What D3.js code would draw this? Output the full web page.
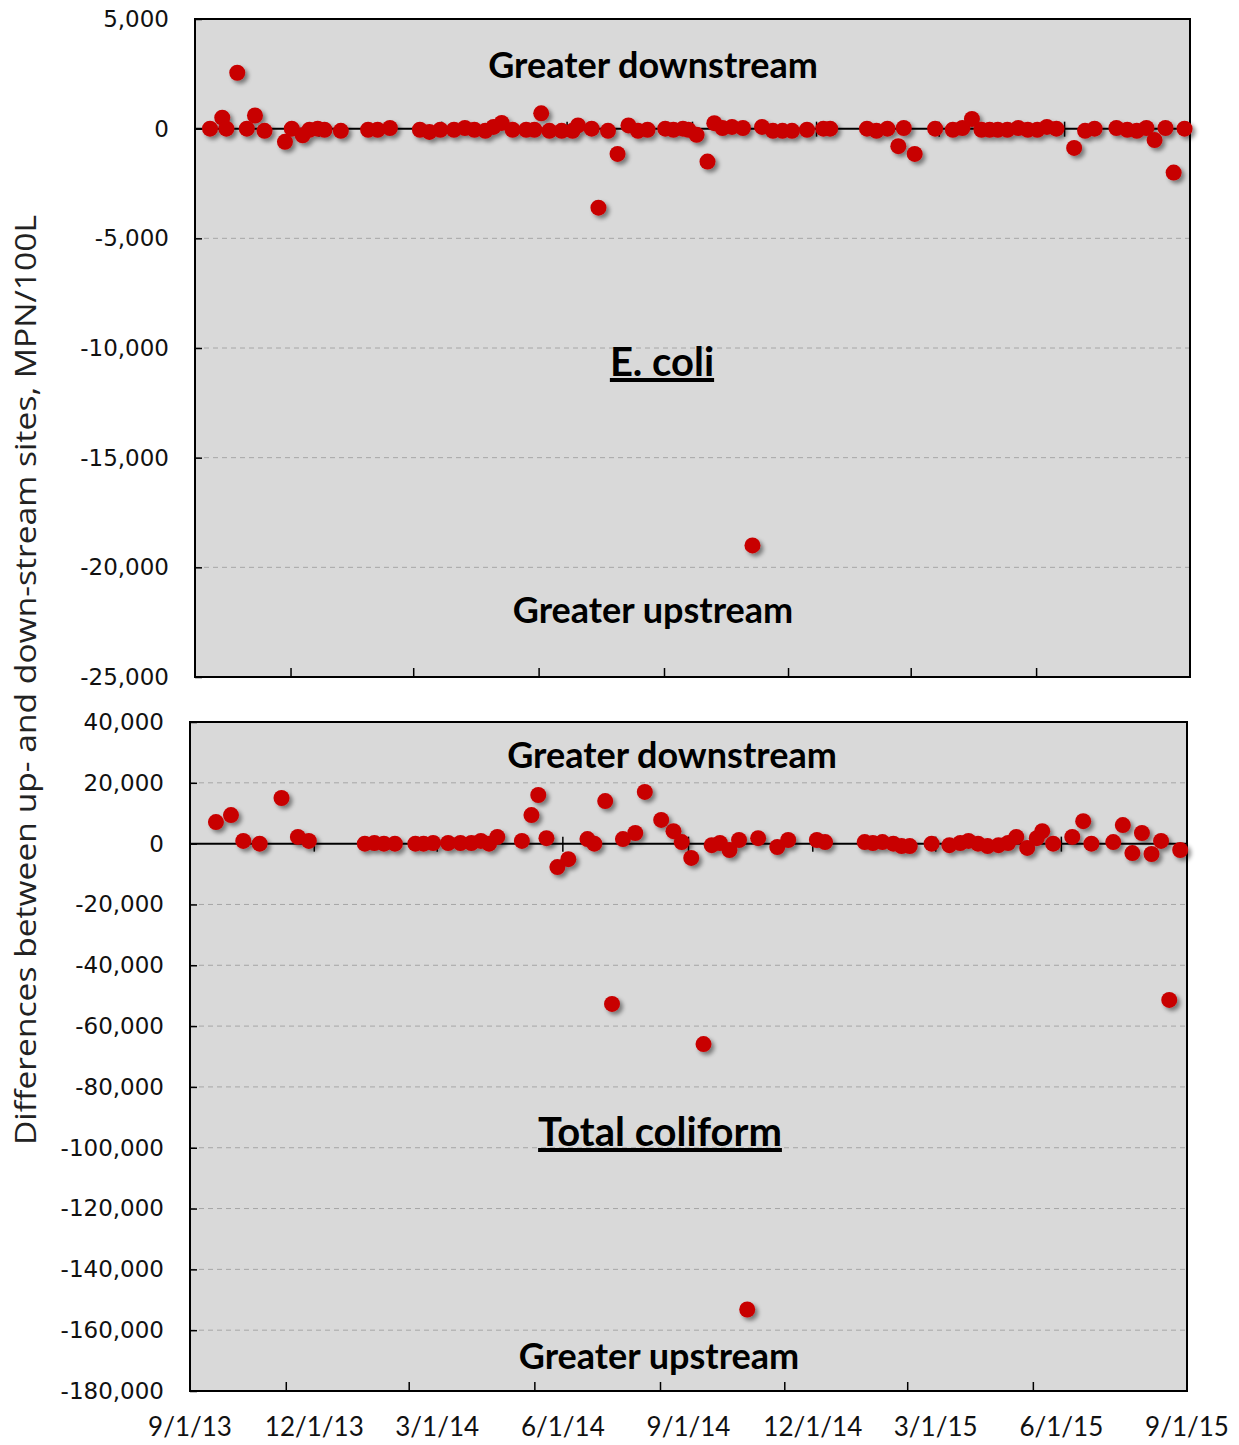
<!DOCTYPE html>
<html>
<head>
<meta charset="utf-8">
<script src="https://cdn.jsdelivr.net/npm/d3@7"></script>
<style>
  body { margin: 0; background: #fff; }
  svg { display: block; }
</style>
</head>
<body>
<script>
const width = 1239, height = 1445;

// E. coli differences (sampling date, MPN/100L)
const ecoliDates = [
  "2013-09-12","2013-09-21","2013-09-24","2013-10-02","2013-10-09","2013-10-15","2013-10-22",
  "2013-11-06","2013-11-11","2013-11-19","2013-11-24","2013-11-30","2013-12-05","2013-12-17",
  "2014-01-06","2014-01-13","2014-01-22","2014-02-13","2014-02-20","2014-02-28","2014-03-10",
  "2014-03-18","2014-03-25","2014-04-02","2014-04-08","2014-04-14","2014-04-22","2014-05-02",
  "2014-05-08","2014-05-13","2014-05-19","2014-05-28","2014-06-05","2014-06-09","2014-06-19",
  "2014-06-24","2014-07-01","2014-07-08","2014-07-16","2014-07-23","2014-07-30","2014-08-12",
  "2014-08-18","2014-08-25","2014-08-29","2014-09-04","2014-09-12","2014-09-17","2014-09-23",
  "2014-09-30","2014-10-08","2014-10-15","2014-10-22","2014-10-30","2014-11-06","2014-11-13",
  "2014-11-24","2014-12-06","2014-12-11","2015-01-07","2015-01-14","2015-01-22","2015-01-30",
  "2015-02-03","2015-02-11","2015-02-26","2015-03-11","2015-03-18","2015-03-25","2015-04-01",
  "2015-04-07","2015-04-13","2015-04-20","2015-04-28","2015-05-05","2015-05-12","2015-05-19",
  "2015-05-26","2015-06-08","2015-06-16","2015-06-23","2015-07-09","2015-07-17","2015-07-24",
  "2015-07-31","2015-08-06","2015-08-14","2015-08-20","2015-08-28"
];
const ecoliValues = [
  0, 500, 0, 2550, 0, 600, -100,
  -600, 0, -300, -50, 0, -50, -100,
  -50, -50, 30, -50, -150, -50, -50,
  30, -50, -100, 80, 260, -50, -50,
  -50, 700, -100, -100, -100, 150, 0,
  -3600, -100, -1150, 150, -100, -50, 0,
  -50, 0, -50, -280, -1500, 250, 30,
  80, 30, -19000, 80, -100, -100, -100,
  -50, 0, 0, 0, -100, 0, -800,
  30, -1150, 0, -50, 30, 440, -50,
  -50, -50, -50, 30, -50, -50, 80,
  0, -880, -100, 0, 30, -50, -100,
  30, -520, 30, -2000, 0
];

// Total coliform differences (sampling date, MPN/100L)
const coliformDates = [
  "2013-09-20","2013-10-01","2013-10-10","2013-10-22","2013-11-07","2013-11-19","2013-11-27",
  "2014-01-07","2014-01-14","2014-01-21","2014-01-29","2014-02-13","2014-02-19","2014-02-26",
  "2014-03-09","2014-03-18","2014-03-26","2014-04-02","2014-04-08","2014-04-14","2014-05-02",
  "2014-05-09","2014-05-14","2014-05-20","2014-05-28","2014-06-05","2014-06-19","2014-06-24",
  "2014-07-02","2014-07-07","2014-07-15","2014-07-24","2014-07-31","2014-08-12","2014-08-21",
  "2014-08-27","2014-09-03","2014-09-12","2014-09-18","2014-09-24","2014-10-01","2014-10-08",
  "2014-10-14","2014-10-22","2014-11-05","2014-11-13","2014-12-04","2014-12-10","2015-01-08",
  "2015-01-14","2015-01-21","2015-01-29","2015-02-04","2015-02-10","2015-02-26","2015-03-11",
  "2015-03-19","2015-03-25","2015-04-01","2015-04-08","2015-04-16","2015-04-23","2015-04-29",
  "2015-05-07","2015-05-14","2015-05-18","2015-05-26","2015-06-09","2015-06-17","2015-06-23",
  "2015-07-09","2015-07-16","2015-07-23","2015-07-30","2015-08-06","2015-08-13","2015-08-19",
  "2015-08-27"
];
const coliformValues = [
  7100, 9400, 900, 0, 15000, 2200, 900,
  0, 200, 0, 0, 0, 0, 200,
  200, 200, 200, 900, 0, 2200, 900,
  9400, 16000, 1800, -7700, -5100, 1500, 0,
  14000, -52700, 1500, 3500, 17000, 7800, 4100,
  500, -4700, -65900, -500, 200, -2100, 1200,
  -153200, 1800, -1100, 1200, 1200, 500, 500,
  200, 500, 0, -800, -800, 0, -500,
  200, 900, 0, -800, -500, 200, 2200,
  -1400, 1800, 4100, 0, 2200, 7400, 0,
  500, 6100, -3100, 3500, -3400, 900, -51400,
  -2100
];

const ecoliTicks = [5000, 0, -5000, -10000, -15000, -20000, -25000];
const coliformTicks = [40000, 20000, 0, -20000, -40000, -60000, -80000, -100000,
  -120000, -140000, -160000, -180000];
const xTickLabels = ["9/1/13", "12/1/13", "3/1/14", "6/1/14", "9/1/14", "12/1/14", "3/1/15", "6/1/15", "9/1/15"];

const parseDate = d3.timeParse("%Y-%m-%d");
const parseLabel = d3.timeParse("%-m/%-d/%y");
const xDomain = [parseLabel(xTickLabels[0]), parseLabel(xTickLabels[xTickLabels.length - 1])];
// plain hyphen for negatives, like the original
const fmt = d3.formatLocale({ decimal: ".", thousands: ",", grouping: [3], currency: ["$", ""], minus: "-" }).format(",");

const svg = d3.select("body").append("svg")
  .attr("width", width)
  .attr("height", height);

// soft drop shadow like Excel markers
const defs = svg.append("defs");
const shadow = defs.append("filter")
  .attr("id", "shadow")
  .attr("x", "-50%").attr("y", "-50%")
  .attr("width", "200%").attr("height", "200%");
shadow.append("feDropShadow")
  .attr("dx", 3).attr("dy", 3)
  .attr("stdDeviation", 2)
  .attr("flood-color", "#000")
  .attr("flood-opacity", 0.45);

const panels = [
  {
    dates: ecoliDates, values: ecoliValues, ticks: ecoliTicks,
    left: 195, right: 1190, top: 19, bottom: 677,
    title: "E. coli", titleX: 662, titleY: 376,
    upX: 653, upY: 78, downX: 653, downY: 623
  },
  {
    dates: coliformDates, values: coliformValues, ticks: coliformTicks,
    left: 190, right: 1187, top: 722, bottom: 1391,
    title: "Total coliform", titleX: 660, titleY: 1146,
    upX: 672, upY: 768, downX: 659, downY: 1369
  }
];

panels.forEach(p => {
  const x = d3.scaleTime().domain(xDomain).range([p.left, p.right]);
  const y = d3.scaleLinear()
    .domain([d3.min(p.ticks), d3.max(p.ticks)])
    .range([p.bottom, p.top]);

  const g = svg.append("g");

  g.append("rect")
    .attr("x", p.left).attr("y", p.top)
    .attr("width", p.right - p.left).attr("height", p.bottom - p.top)
    .attr("fill", "#d9d9d9");

  // dashed gridlines
  g.selectAll(".grid")
    .data(p.ticks.filter(t => t !== 0 && t !== d3.min(p.ticks) && t !== d3.max(p.ticks)))
    .enter().append("line")
    .attr("x1", p.left).attr("x2", p.right)
    .attr("y1", d => y(d)).attr("y2", d => y(d))
    .attr("stroke", "#a6a6a6")
    .attr("stroke-width", 1)
    .attr("stroke-dasharray", "5,4");

  // y axis: labels + small inner ticks
  const yAxis = d3.axisLeft(y).tickValues(p.ticks).tickFormat(fmt).tickSize(-7).tickPadding(26);
  const ya = g.append("g")
    .attr("transform", `translate(${p.left},0)`)
    .call(yAxis);
  ya.select(".domain").remove();
  ya.selectAll(".tick line").attr("stroke", "#000").attr("stroke-width", 1.5);
  ya.selectAll(".tick text")
    .attr("font-family", "DejaVu Sans, Verdana, sans-serif")
    .attr("font-size", 23)
    .attr("fill", "#111");

  // zero line with date ticks across it
  g.append("line")
    .attr("x1", p.left).attr("x2", p.right)
    .attr("y1", y(0)).attr("y2", y(0))
    .attr("stroke", "#000").attr("stroke-width", 2);
  g.selectAll(".zt")
    .data(xTickLabels.slice(1, -1))
    .enter().append("line")
    .attr("x1", d => x(parseLabel(d))).attr("x2", d => x(parseLabel(d)))
    .attr("y1", y(0) - 7).attr("y2", y(0) + 8)
    .attr("stroke", "#000").attr("stroke-width", 1.5);

  // bottom ticks
  g.selectAll(".bt")
    .data(xTickLabels.slice(1, -1))
    .enter().append("line")
    .attr("x1", d => x(parseLabel(d)) - 28).attr("x2", d => x(parseLabel(d)) - 28)
    .attr("y1", p.bottom - 9).attr("y2", p.bottom)
    .attr("stroke", "#000").attr("stroke-width", 1.5);

  // frame
  g.append("rect")
    .attr("x", p.left).attr("y", p.top)
    .attr("width", p.right - p.left).attr("height", p.bottom - p.top)
    .attr("fill", "none")
    .attr("stroke", "#000").attr("stroke-width", 2);

  // annotations
  const bold = g.append("g")
    .attr("font-family", "Lato, sans-serif")
    .attr("font-weight", "bold")
    .attr("text-anchor", "middle")
    .attr("fill", "#000");
  bold.append("text").attr("x", p.upX).attr("y", p.upY).attr("font-size", 36).text("Greater downstream");
  bold.append("text").attr("x", p.downX).attr("y", p.downY).attr("font-size", 36).text("Greater upstream");
  bold.append("text").attr("x", p.titleX).attr("y", p.titleY).attr("font-size", 40)
    .attr("text-decoration", "underline").text(p.title);

  // points
  const pts = p.dates.map((d, i) => ({ date: parseDate(d), value: p.values[i] }));
  g.append("g")
    .attr("filter", "url(#shadow)")
    .selectAll("circle")
    .data(pts)
    .enter().append("circle")
    .attr("cx", d => x(d.date))
    .attr("cy", d => y(d.value))
    .attr("r", 8)
    .attr("fill", "#c80000");

  p.x = x;
});

// shared date labels under the lower panel
const xb = panels[1].x;
svg.append("g")
  .selectAll("text")
  .data(xTickLabels)
  .enter().append("text")
  .attr("x", d => xb(parseLabel(d)))
  .attr("y", 1436)
  .attr("text-anchor", "middle")
  .attr("font-family", "Lato, sans-serif")
  .attr("font-size", 26)
  .attr("fill", "#111")
  .text(d => d);

// y axis title
svg.append("text")
  .attr("transform", "translate(24,680) rotate(-90)")
  .attr("text-anchor", "middle")
  .attr("dominant-baseline", "central")
  .attr("font-family", "Open Sans, sans-serif")
  .attr("font-size", 30)
  .attr("textLength", 930)
  .attr("lengthAdjust", "spacingAndGlyphs")
  .attr("fill", "#222")
  .text("Differences between up- and down-stream sites, MPN/100L");
</script>
</body>
</html>
